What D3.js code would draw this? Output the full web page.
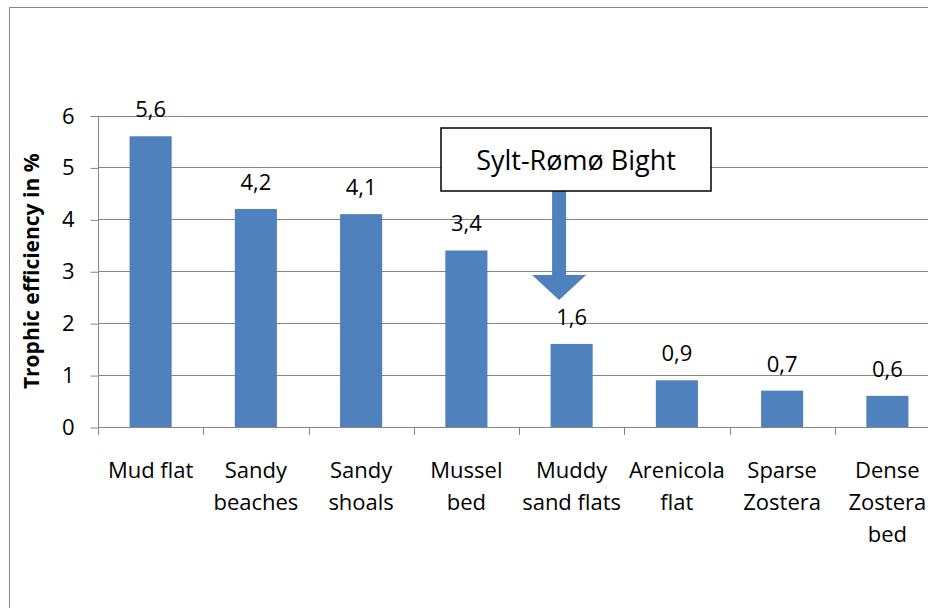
<!DOCTYPE html>
<html>
<head>
<meta charset="utf-8">
<script src="https://cdn.jsdelivr.net/npm/d3@7"></script>
<style>
  html, body { margin: 0; padding: 0; background: #fff; }
  svg { display: block; font-family: "Open Sans", sans-serif; }
</style>
</head>
<body>
<svg id="chart" width="928" height="608"></svg>
<script>
// Trophic efficiency per habitat type
const categories = [
  ["Mud flat"],
  ["Sandy", "beaches"],
  ["Sandy", "shoals"],
  ["Mussel", "bed"],
  ["Muddy", "sand flats"],
  ["Arenicola", "flat"],
  ["Sparse", "Zostera"],
  ["Dense", "Zostera", "bed"]
];
const values = [5.6, 4.2, 4.1, 3.4, 1.6, 0.9, 0.7, 0.6];
const valueLabels = ["5,6", "4,2", "4,1", "3,4", "1,6", "0,9", "0,7", "0,6"];
const yTicks = [0, 1, 2, 3, 4, 5, 6];
const yAxisTitle = "Trophic efficiency in %";
const calloutText = "Sylt-Rømø Bight";
const calloutCategory = 4;

const svg = d3.select("#chart");
const barColor = "#4F81BD";
const axisColor = "#868686";

// outer frame
svg.append("rect")
  .attr("x", 9.5).attr("y", 7.5)
  .attr("width", 1000).attr("height", 1000)
  .attr("fill", "none").attr("stroke", axisColor).attr("stroke-width", 1);

const plot = { left: 98, right: 940, top: 115.5, bottom: 427 };

const x = d3.scaleBand()
  .domain(d3.range(categories.length))
  .range([plot.left, plot.right])
  .paddingInner(0.6)
  .paddingOuter(0.3);

const y = d3.scaleLinear()
  .domain([0, 6])
  .range([plot.bottom, plot.top]);

// horizontal gridlines
svg.append("g")
  .selectAll("line")
  .data(yTicks)
  .join("line")
  .attr("x1", plot.left).attr("x2", 928)
  .attr("y1", d => Math.round(y(d)) + 0.5)
  .attr("y2", d => Math.round(y(d)) + 0.5)
  .attr("stroke", axisColor).attr("stroke-width", 1);

// bars
svg.append("g")
  .selectAll("rect")
  .data(values)
  .join("rect")
  .attr("x", (d, i) => x(i))
  .attr("width", x.bandwidth())
  .attr("y", d => y(d))
  .attr("height", d => y(0) - y(d))
  .attr("fill", barColor);

// value labels
svg.append("g")
  .selectAll("text")
  .data(values)
  .join("text")
  .attr("x", (d, i) => x(i) + x.bandwidth() / 2)
  .attr("y", d => y(d) - 19)
  .attr("text-anchor", "middle")
  .attr("font-size", 22)
  .attr("fill", "#000")
  .text((d, i) => valueLabels[i]);

// y axis
const yAxis = d3.axisLeft(y)
  .tickValues(yTicks)
  .tickSize(8)
  .tickPadding(16)
  .tickFormat(d3.format("d"));
const gy = svg.append("g")
  .attr("transform", `translate(${plot.left + 0.5},0.5)`)
  .call(yAxis);
gy.selectAll("path, line").attr("stroke", axisColor);
gy.select(".domain").attr("d", `M0,${plot.top}V${plot.bottom}`);
gy.selectAll("text")
  .attr("font-size", 22)
  .attr("font-family", "Open Sans, sans-serif")
  .attr("fill", "#000");

// x axis: ticks at category boundaries
const step = x.step();
const boundaries = d3.range(categories.length + 1).map(i => x(0) - x.paddingOuter() * step + i * step);
const gx = svg.append("g");
gx.append("line")
  .attr("x1", plot.left).attr("x2", 928)
  .attr("y1", Math.round(y(0)) + 0.5).attr("y2", Math.round(y(0)) + 0.5)
  .attr("stroke", axisColor);
gx.selectAll("line.tick")
  .data(boundaries)
  .join("line")
  .attr("class", "tick")
  .attr("x1", d => Math.round(d) + 0.5).attr("x2", d => Math.round(d) + 0.5)
  .attr("y1", y(0)).attr("y2", y(0) + 8)
  .attr("stroke", axisColor);

// category labels (multi-line)
const catLabels = svg.append("g")
  .selectAll("text")
  .data(categories)
  .join("text")
  .attr("x", (d, i) => x(i) + x.bandwidth() / 2)
  .attr("y", 478)
  .attr("text-anchor", "middle")
  .attr("font-size", 22)
  .attr("fill", "#000");
catLabels.selectAll("tspan")
  .data(d => d)
  .join("tspan")
  .attr("x", function () { return this.parentNode.getAttribute("x"); })
  .attr("dy", (d, i) => i === 0 ? 0 : 32)
  .text(d => d);

// y axis title
svg.append("text")
  .attr("transform", `translate(39,${(plot.top + plot.bottom) / 2}) rotate(-90)`)
  .attr("text-anchor", "middle")
  .attr("font-size", 21)
  .attr("font-weight", "bold")
  .attr("fill", "#000")
  .text(yAxisTitle);

// callout box with arrow pointing at the highlighted category
const cx = x(calloutCategory) + 8.5;
const box = { x: 441, y: 128, w: 270, h: 63 };
const callout = svg.append("g");
callout.append("path")
  .attr("d", d3.line()([
    [cx - 7, box.y + box.h],
    [cx + 7, box.y + box.h],
    [cx + 7, 275],
    [cx + 27, 275],
    [cx, 300],
    [cx - 27, 275],
    [cx - 7, 275]
  ]) + "Z")
  .attr("fill", barColor);
callout.append("rect")
  .attr("x", box.x).attr("y", box.y)
  .attr("width", box.w).attr("height", box.h)
  .attr("fill", "#fff").attr("stroke", "#000").attr("stroke-width", 1.5);
callout.append("text")
  .attr("x", box.x + box.w / 2)
  .attr("y", box.y + box.h / 2 + 10)
  .attr("text-anchor", "middle")
  .attr("font-size", 27)
  .attr("fill", "#000")
  .text(calloutText);
</script>
</body>
</html>
